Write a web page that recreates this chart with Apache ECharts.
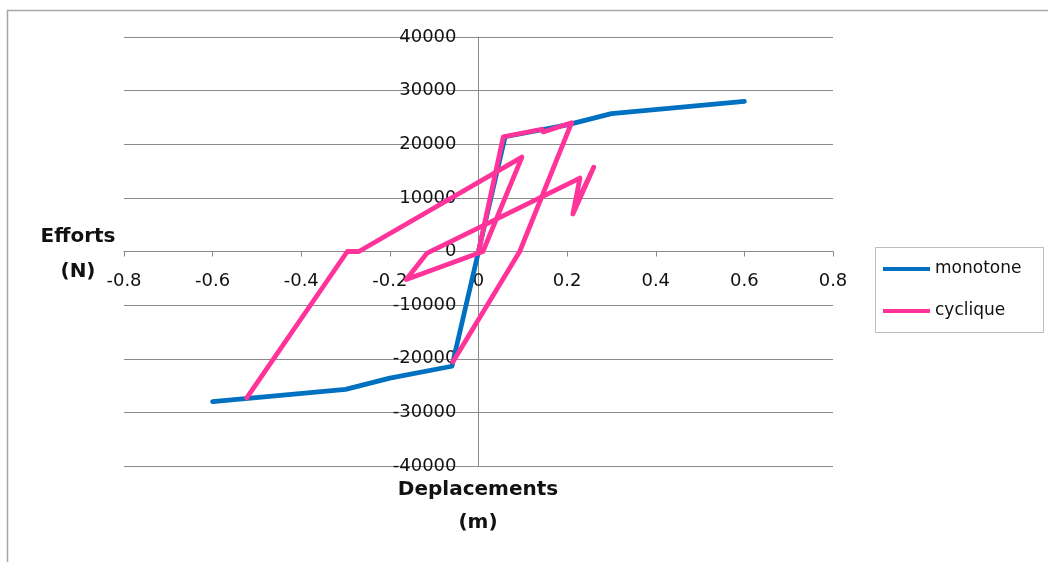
<!DOCTYPE html>
<html><head><meta charset="utf-8">
<script src="https://cdn.jsdelivr.net/npm/echarts@6/dist/echarts.min.js"></script>
<style>html,body{margin:0;padding:0;background:#fff}#c{width:1048px;height:562px}</style>
</head><body><div id="c"></div>
<script>
// ---- data ----
const seriesNames = ['monotone', 'cyclique'];
const monotoneX = [-0.6, -0.3, -0.2, -0.06, 0, 0.06, 0.2, 0.3, 0.6];
const monotoneY = [-28000, -25700, -23600, -21400, 0, 21400, 23600, 25700, 28000];
// null marks a break in the cyclic path (segment hidden in the reference)
const cycliqueX = [0, 0.056, 0.143, 0.146, 0.21, 0.093, -0.058, null, -0.523, -0.296, -0.27, 0.098, 0.01, -0.163, -0.116, 0.229, 0.213, 0.26, 0.216];
const cycliqueY = [0, 21400, 22800, 22300, 24000, 0, -20600, null, -27300, 0, 0, 17600, 0, -5200, -300, 13700, 7000, 15700, 8000];
const xAxisMin = -0.8, xAxisMax = 0.8, xAxisStep = 0.2;
const yAxisMin = -40000, yAxisMax = 40000, yAxisStep = 10000;
const yTitleLines = ['Efforts', '(N)'];
const xTitleLines = ['Deplacements', '(m)'];

// ---- build ----
const FONT = 'DejaVu Sans';
const BLUE = '#0070C0', PINK = '#FF3399', GRID = '#8a8a8a';
const G = { left: 124, right: 215, top: 37, bottom: 96 };
const plotW = 1048 - G.left - G.right, plotH = 562 - G.top - G.bottom;
function zip(xs, ys) { return xs.map((x, i) => [x, ys[i]]); }
function splitAtNull(xs, ys) {
  const segs = []; let cur = [];
  xs.forEach((x, i) => {
    if (x === null || ys[i] === null) { if (cur.length) segs.push(cur); cur = []; }
    else cur.push([x, ys[i]]);
  });
  if (cur.length) segs.push(cur);
  return segs;
}
const lineStyleBase = { width: 4.8, cap: 'round', join: 'round' };
const series = [{
  name: seriesNames[0], type: 'line', data: zip(monotoneX, monotoneY),
  showSymbol: false, symbol: 'none', color: BLUE,
  lineStyle: Object.assign({ color: BLUE }, lineStyleBase), animation: false, z: 2
}];
splitAtNull(cycliqueX, cycliqueY).forEach(seg => series.push({
  name: seriesNames[1], type: 'line', data: seg,
  showSymbol: false, symbol: 'none', color: PINK,
  lineStyle: Object.assign({ color: PINK }, lineStyleBase), animation: false, z: 3
}));
// axes cross at (0,0): shift each axis to the middle of the plot
const xZeroFrac = (0 - yAxisMin) / (yAxisMax - yAxisMin);
const yZeroFrac = (0 - xAxisMin) / (xAxisMax - xAxisMin);

const chart = echarts.init(document.getElementById('c'), null, { renderer: 'canvas' });
chart.setOption({
  backgroundColor: '#fff',
  animation: false,
  grid: { left: G.left, right: G.right, top: G.top, bottom: G.bottom, containLabel: false },
  xAxis: {
    type: 'value', min: xAxisMin, max: xAxisMax, interval: xAxisStep,
    offset: -plotH * xZeroFrac,
    axisLine: { show: true, onZero: false, lineStyle: { color: GRID, width: 1 } },
    axisTick: { show: true, length: 5, lineStyle: { color: GRID } },
    axisLabel: { fontFamily: FONT, fontSize: 18, color: '#111', margin: 21,
      formatter: v => String(Math.round(v * 10) / 10) },
    splitLine: { show: false }
  },
  yAxis: {
    type: 'value', min: yAxisMin, max: yAxisMax, interval: yAxisStep,
    offset: -plotW * yZeroFrac,
    axisLine: { show: true, onZero: false, lineStyle: { color: GRID, width: 1 } },
    axisTick: { show: true, length: 5, lineStyle: { color: GRID } },
    axisLabel: { fontFamily: FONT, fontSize: 18, color: '#111', margin: 22,
      formatter: v => String(v) },
    splitLine: { show: true, lineStyle: { color: GRID, width: 1 } }
  },
  legend: {
    data: seriesNames, orient: 'vertical', left: 883, top: 259,
    icon: 'rect', itemWidth: 47, itemHeight: 4, itemGap: 22,
    textStyle: { fontFamily: FONT, fontSize: 17, color: '#111', lineHeight: 20 },
    padding: 0, selectedMode: false
  },
  graphic: [
    { type: 'rect', silent: true, z: -10, shape: { x: 7.5, y: 10.5, width: 1100, height: 600 },
      style: { fill: 'none', stroke: '#a6a6a6', lineWidth: 1.5 } },
    { type: 'rect', silent: true, z: -5, shape: { x: 875.5, y: 247.5, width: 168, height: 85 },
      style: { fill: '#fff', stroke: '#bfbfbf', lineWidth: 1 } },
    { type: 'text', silent: true, style: { text: yTitleLines[0], x: 78, y: 237, align: 'center', verticalAlign: 'middle',
      font: 'bold 20px "' + FONT + '"', fill: '#111' } },
    { type: 'text', silent: true, style: { text: yTitleLines[1], x: 78, y: 272, align: 'center', verticalAlign: 'middle',
      font: 'bold 20px "' + FONT + '"', fill: '#111' } },
    { type: 'text', silent: true, style: { text: xTitleLines[0], x: 478, y: 490, align: 'center', verticalAlign: 'middle',
      font: 'bold 20px "' + FONT + '"', fill: '#111' } },
    { type: 'text', silent: true, style: { text: xTitleLines[1], x: 478, y: 523, align: 'center', verticalAlign: 'middle',
      font: 'bold 20px "' + FONT + '"', fill: '#111' } }
  ],
  series: series
});
</script></body></html>
